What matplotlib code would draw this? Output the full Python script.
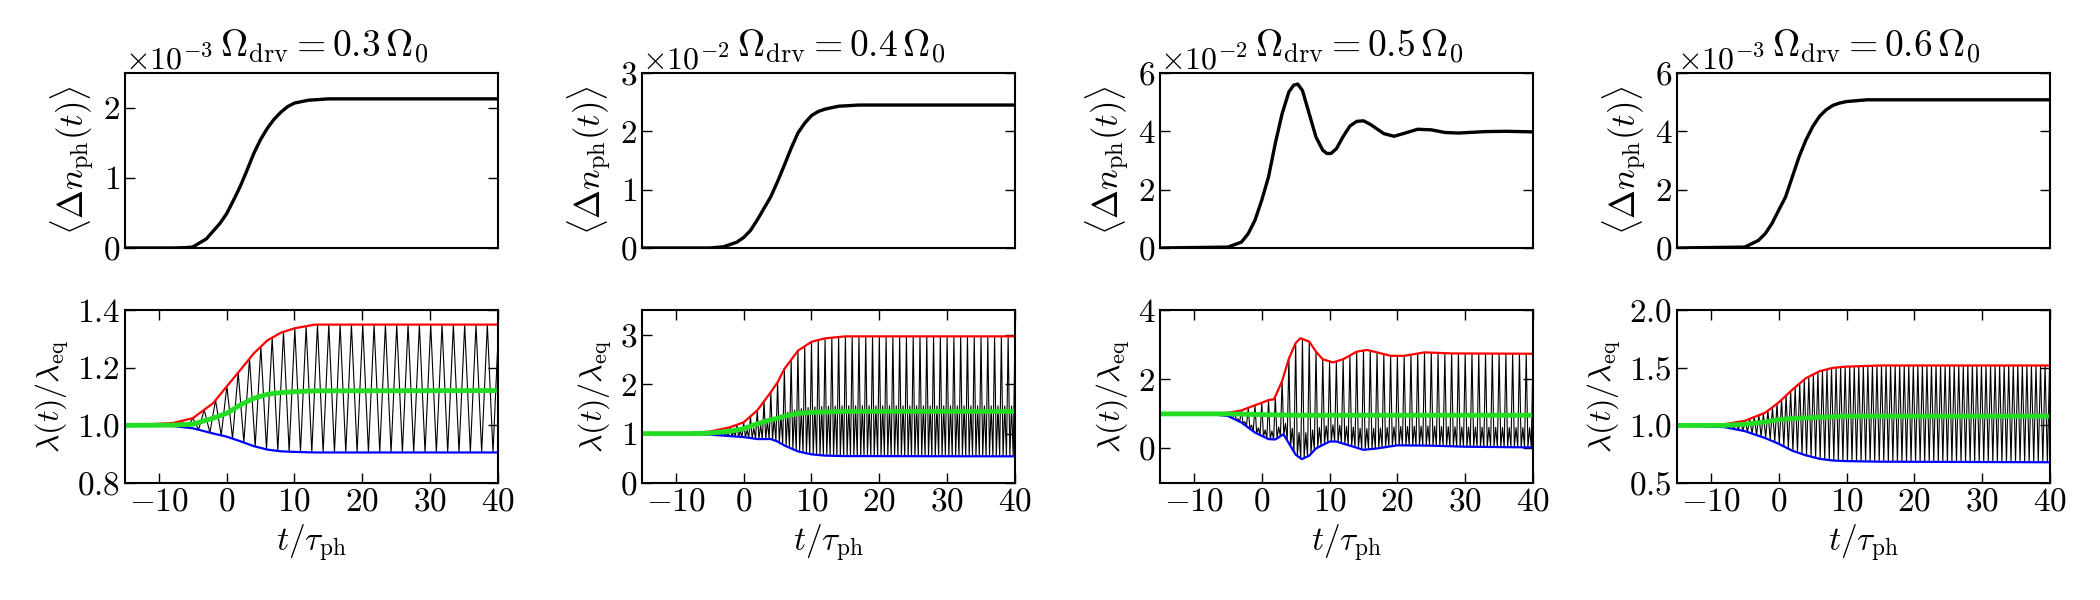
import numpy as np
import matplotlib
matplotlib.use('Agg')
import matplotlib.pyplot as plt
from matplotlib.ticker import ScalarFormatter

plt.rcParams['font.family'] = 'serif'
plt.rcParams['font.serif'] = ['cmr10']
plt.rcParams['mathtext.fontset'] = 'cm'
plt.rcParams['axes.formatter.use_mathtext'] = True
plt.rcParams['axes.unicode_minus'] = True

# %% Data
titles = [r'$\Omega_{\rm drv} = 0.3\,\Omega_0$', r'$\Omega_{\rm drv} = 0.4\,\Omega_0$',
          r'$\Omega_{\rm drv} = 0.5\,\Omega_0$', r'$\Omega_{\rm drv} = 0.6\,\Omega_0$']

# top row: <Delta n_ph(t)>, values in units of scale
n_scale = [1e-3, 1e-2, 1e-2, 1e-3]
n_t1 = [-15, -8, -6, -5, -3, -1, 0, 1, 2, 3, 4, 5, 6, 7, 8, 9, 10, 12, 15, 40]
n_v1 = [0, 0.0, 0.005, 0.014, 0.13, 0.35, 0.49, 0.68, 0.88, 1.11, 1.35, 1.55, 1.71, 1.84, 1.94, 2.02, 2.07, 2.11, 2.13, 2.13]
n_t2 = [-15, -5, -3, -1, 0, 1, 2, 3, 4, 5, 6, 7, 8, 9, 10, 11, 12, 14, 17, 40]
n_v2 = [0, 0, 0.02, 0.1, 0.18, 0.3, 0.48, 0.68, 0.88, 1.14, 1.42, 1.71, 1.97, 2.14, 2.27, 2.34, 2.38, 2.43, 2.45, 2.45]
n_t3 = [-15, -5, -3, -2, -1, 0, 1, 2, 3, 4, 4.7, 5.3, 6, 7, 8, 9, 9.6, 10.2, 11, 12, 13, 14, 15, 16, 17, 18, 19.5,
        21, 23, 25, 27, 29, 33, 36, 40]
n_v3 = [0, 0.03, 0.2, 0.49, 0.95, 1.64, 2.44, 3.59, 4.6, 5.35, 5.58, 5.62, 5.4, 4.6, 3.8, 3.35, 3.24, 3.24, 3.4, 3.82,
        4.18, 4.34, 4.36, 4.24, 4.08, 3.92, 3.83, 3.93, 4.07, 4.05, 3.96, 3.94, 3.99, 4.0, 3.98]
n_t4 = [-15, -5, -3, -2, -1, 0, 1, 2, 3, 4, 5, 6, 7, 8, 9, 10, 13, 40]
n_v4 = [0, 0.03, 0.26, 0.49, 0.84, 1.3, 1.75, 2.44, 3.13, 3.7, 4.16, 4.51, 4.74, 4.89, 4.97, 5.02, 5.08, 5.08]

# bottom row: lambda(t)/lambda_eq envelopes (red: max, blue: min, green: mean)
up_t1 = [-15, -8, -5, -2, 0, 2, 4, 6, 8, 10, 13, 40]
up_v1 = [1.0, 1.008, 1.025, 1.077, 1.135, 1.192, 1.25, 1.295, 1.322, 1.337, 1.35, 1.35]
lo_t1 = up_t1
lo_v1 = [1.0, 0.998, 0.99, 0.972, 0.961, 0.945, 0.928, 0.916, 0.91, 0.908, 0.906, 0.906]
mn_t1 = up_t1
mn_v1 = [1.0, 1.001, 1.004, 1.025, 1.042, 1.071, 1.094, 1.108, 1.114, 1.117, 1.12, 1.121]

up_t2 = [-15, -8, -5, -2, 0, 2, 4, 5, 6, 8, 10, 12, 15, 40]
up_v2 = [1.0, 1.01, 1.04, 1.13, 1.23, 1.47, 1.84, 2.04, 2.31, 2.68, 2.86, 2.93, 2.97, 2.97]
lo_t2 = up_t2
lo_v2 = [1.0, 0.995, 0.98, 0.95, 0.93, 0.89, 0.89, 0.84, 0.76, 0.64, 0.58, 0.555, 0.545, 0.54]
mn_t2 = up_t2
mn_v2 = [1.0, 1.0, 1.01, 1.05, 1.1, 1.2, 1.28, 1.31, 1.35, 1.41, 1.43, 1.44, 1.45, 1.45]

up_t3 = [-15, -8, -5, -3, -1, 0, 1, 1.8, 3, 4, 5, 5.7, 7, 8, 9, 10.5, 12, 14, 15.5, 17, 19, 21, 24, 28, 40]
up_v3 = [1.0, 1.0, 1.03, 1.1, 1.25, 1.32, 1.4, 1.42, 1.95, 2.6, 3.05, 3.19, 3.09, 2.8, 2.58, 2.49, 2.58, 2.8, 2.85,
         2.78, 2.68, 2.68, 2.78, 2.75, 2.74]
lo_t3 = [-15, -8, -5, -3, -1, 1, 2, 3.2, 4, 5, 5.9, 7, 8, 10, 11, 13, 15, 17, 20, 25, 30, 40]
lo_v3 = [1.0, 1.0, 0.94, 0.75, 0.46, 0.27, 0.26, 0.41, 0.15, -0.18, -0.31, -0.21, 0.0, 0.2, 0.2, 0.08, -0.04, 0.0,
         0.09, 0.08, 0.05, 0.03]
mn_t3 = [-15, -5, 0, 5, 10, 40]
mn_v3 = [1.0, 1.0, 0.98, 0.96, 0.96, 0.96]

up_t4 = [-15, -8, -5, -2, 0, 2, 4, 6, 8, 10, 15, 40]
up_v4 = [1.0, 1.01, 1.04, 1.11, 1.2, 1.31, 1.41, 1.47, 1.5, 1.51, 1.52, 1.52]
lo_t4 = up_t4
lo_v4 = [1.0, 0.985, 0.95, 0.89, 0.84, 0.78, 0.74, 0.71, 0.695, 0.69, 0.685, 0.68]
mn_t4 = up_t4
mn_v4 = [1.0, 1.0, 1.01, 1.03, 1.05, 1.06, 1.065, 1.07, 1.075, 1.08, 1.08, 1.08]

# oscillation: period (in tau_ph) and shape of one cycle (0 = min, 1 = max)
osc_period = [1.67, 1.0, 1.0, 0.67]
osc_shape = [[1, 0], [1, 0, 0.42, 0], [1, 0, 0.21, 0], [1, 0]]

top_ylim = [(0, 2.5), (0, 3), (0, 6), (0, 6)]
top_yticks = [[0, 1, 2], [0, 1, 2, 3], [0, 2, 4, 6], [0, 2, 4, 6]]
bot_ylim = [(0.8, 1.4), (0, 3.5), (-1, 4), (0.5, 2.0)]
bot_yticks = [[0.8, 1.0, 1.2, 1.4], [0, 1, 2, 3], [0, 2, 4], [0.5, 1.0, 1.5, 2.0]]
xticks = [-10, 0, 10, 20, 30, 40]

n_t = [n_t1, n_t2, n_t3, n_t4]
n_v = [n_v1, n_v2, n_v3, n_v4]
up_t = [up_t1, up_t2, up_t3, up_t4]
up_v = [up_v1, up_v2, up_v3, up_v4]
lo_t = [lo_t1, lo_t2, lo_t3, lo_t4]
lo_v = [lo_v1, lo_v2, lo_v3, lo_v4]
mn_t = [mn_t1, mn_t2, mn_t3, mn_t4]
mn_v = [mn_v1, mn_v2, mn_v3, mn_v4]

# %% Plot
fig = plt.figure(figsize=(21, 6), dpi=100)
lefts = [0.0595, 0.3057, 0.5524, 0.7986]
w = 0.1776

for i in range(4):
    axt = fig.add_axes([lefts[i], 0.5867, w, 0.2917])
    axb = fig.add_axes([lefts[i], 0.195, w, 0.288])

    # top
    s = n_scale[i]
    axt.plot(n_t[i], np.array(n_v[i]) * s, color='k', lw=2.4)
    axt.set_xlim(-15, 40)
    axt.set_ylim(top_ylim[i][0] * s, top_ylim[i][1] * s)
    axt.set_yticks(np.array(top_yticks[i]) * s)
    fmt = ScalarFormatter(useMathText=True)
    fmt.set_powerlimits((0, 0))
    axt.yaxis.set_major_formatter(fmt)
    axt.yaxis.get_offset_text().set_fontsize(23)
    axt.set_xticks([])
    axt.tick_params(axis='y', direction='in', left=True, right=True, length=7, width=1, labelsize=24)
    axt.set_ylabel(r'$\langle\Delta n_{\rm ph}(t)\rangle$', fontsize=25)
    axt.text(0.535, 1.09, titles[i], transform=axt.transAxes, ha='center', va='baseline', fontsize=27)

    # bottom: oscillation between the envelopes
    step = osc_period[i] / len(osc_shape[i])
    t_ext = np.arange(-15, 40 + step, step)
    frac = np.resize(osc_shape[i], len(t_ext))
    hi = np.interp(t_ext, up_t[i], up_v[i])
    lo = np.interp(t_ext, lo_t[i], lo_v[i])
    axb.plot(t_ext, lo + frac * (hi - lo), color='k', lw=0.8)
    axb.plot(up_t[i], up_v[i], color='#ff0000', lw=1.6)
    axb.plot(lo_t[i], lo_v[i], color='#0000ff', lw=1.6)
    axb.plot(mn_t[i], mn_v[i], color='#22dd22', lw=3.5)
    axb.set_xlim(-15, 40)
    axb.set_ylim(*bot_ylim[i])
    axb.set_xticks(xticks)
    axb.set_yticks(bot_yticks[i])
    axb.tick_params(direction='in', top=True, right=True, length=7, width=1, labelsize=24)
    axb.set_xlabel(r'$t/\tau_{\rm ph}$', fontsize=24)
    axb.set_ylabel(r'$\lambda(t)/\lambda_{\rm eq}$', fontsize=23)

    for ax in (axt, axb):
        for sp in ax.spines.values():
            sp.set_linewidth(1.5)

fig.savefig('out.png', dpi=100)
